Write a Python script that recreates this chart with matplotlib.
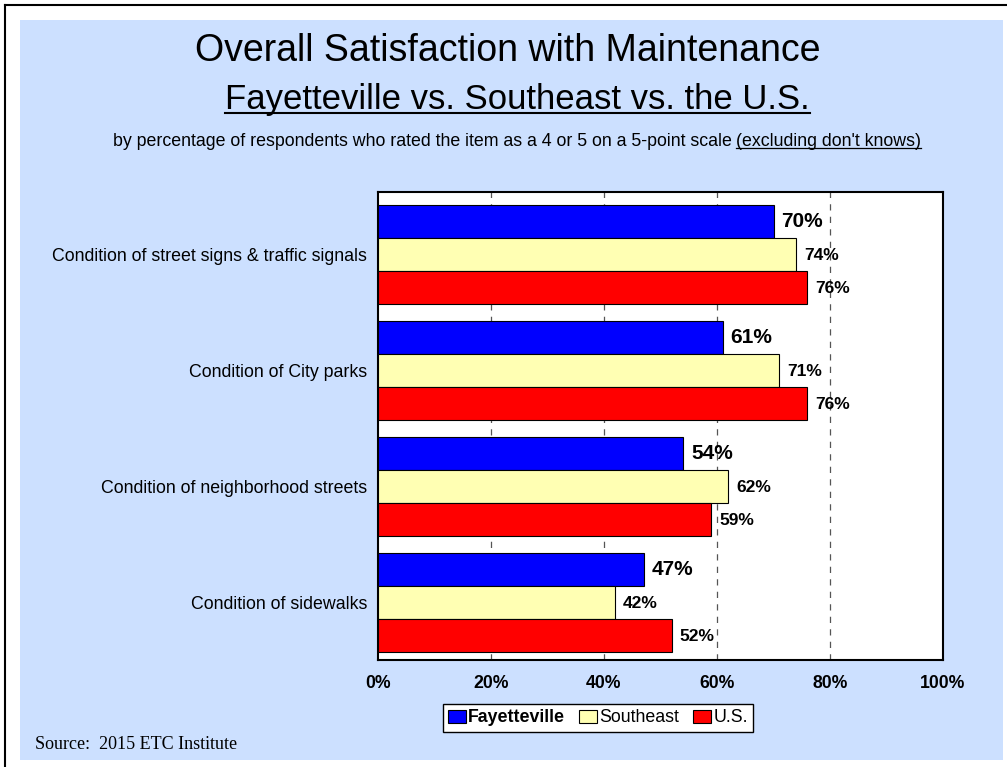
import numpy as np
import matplotlib.pyplot as plt
from matplotlib.patches import Rectangle
from matplotlib.lines import Line2D

plt.rcParams['font.family'] = ['Liberation Sans', 'DejaVu Sans']

categories = ["Condition of street signs & traffic signals",
              "Condition of City parks",
              "Condition of neighborhood streets",
              "Condition of sidewalks"]
fayetteville = [70, 61, 54, 47]
southeast = [74, 71, 62, 42]
us = [76, 76, 59, 52]
series_names = ["Fayetteville", "Southeast", "U.S."]
xticks = [0, 20, 40, 60, 80, 100]
xtick_labels = ["0%", "20%", "40%", "60%", "80%", "100%"]

W, H = 1007, 767
fig = plt.figure(figsize=(W / 100, H / 100), dpi=100)
fig.patch.set_facecolor('white')

# light blue panel and the black frame lines at top/left
fig.add_artist(Rectangle((20 / W, 1 - 760 / H), 983 / W, 740 / H,
                         transform=fig.transFigure, facecolor='#CCE0FF',
                         edgecolor='none', zorder=0))
fig.add_artist(Line2D([4.5 / W, 4.5 / W], [0, 1 - 5 / H], transform=fig.transFigure,
                      color='black', lw=1.5))
fig.add_artist(Line2D([4.5 / W, 1], [1 - 5 / H, 1 - 5 / H], transform=fig.transFigure,
                      color='black', lw=1.5))

ax = fig.add_axes([378 / W, 1 - 660 / H, 565 / W, 468 / H])
ax.set_facecolor('white')

y = np.arange(len(categories))
h = 0.284
colors = ['#0000FF', '#FFFFB3', '#FF0000']
data = [fayetteville, southeast, us]
for k, (vals, c, name) in enumerate(zip(data, colors, series_names)):
    ax.barh(y + (k - 1) * h, vals, height=h, color=c, edgecolor='black',
            linewidth=0.8, label=name, zorder=3)
    for yi, v in zip(y + (k - 1) * h, vals):
        if k == 0:
            ax.text(v + 1.4, yi, f"{v}%", va='center', ha='left', fontsize=15,
                    fontweight='bold', zorder=4)
        else:
            ax.text(v + 1.4, yi + 0.01, f"{v}%", va='center', ha='left', fontsize=12.5,
                    fontweight='bold', zorder=4)

ax.set_xlim(0, 100)
ax.set_ylim(3.496, -0.539)
ax.set_yticks(y)
ax.set_yticklabels(categories, fontsize=12.8)
ax.set_xticks(xticks)
ax.set_xticklabels(xtick_labels, fontsize=12.7, fontweight='bold')
ax.tick_params(axis='x', length=0, pad=11)
ax.tick_params(axis='y', length=0, pad=8)
for xv in xticks[1:-1]:
    ax.axvline(xv, color='#555555', lw=0.9, ls=(0, (5, 5)), zorder=1)
for s in ax.spines.values():
    s.set_linewidth(1.5)
    s.set_color('black')

leg = ax.legend(loc='center', bbox_to_anchor=(598 / W, 1 - 718 / H),
                bbox_transform=fig.transFigure, ncol=3, fontsize=12.8,
                frameon=True, fancybox=False, edgecolor='black', framealpha=1,
                handlelength=1.0, handleheight=0.8, handletextpad=0.12,
                columnspacing=0.8, borderpad=0.32, borderaxespad=0)
leg.get_frame().set_linewidth(1.0)
leg.get_texts()[0].set_fontweight('bold')

# titles
fig.text(0.504, 1 - 61 / H, "Overall Satisfaction with Maintenance", ha='center',
         va='baseline', fontsize=27)
t2 = fig.text(0.514, 1 - 109 / H, "Fayetteville vs. Southeast vs. the U.S.", ha='center',
              va='baseline', fontsize=25)

fig.canvas.draw()
r = fig.canvas.get_renderer()


def underline(txt, y_px, lw=1.0):
    bb = txt.get_window_extent(renderer=r)
    yy = 1 - y_px / H
    fig.add_artist(Line2D([bb.x0 / W, bb.x1 / W], [yy, yy], transform=fig.transFigure,
                          color='black', lw=lw))


underline(t2, 113, lw=1.5)

# subtitle: plain part + underlined part, centered together
part1 = "by percentage of respondents who rated the item as a 4 or 5 on a 5-point scale "
part2 = "(excluding don't knows)"
sy = 1 - 146 / H
p1 = fig.text(0, sy, part1, ha='left', va='baseline', fontsize=12.75)
p2 = fig.text(0, sy, part2, ha='left', va='baseline', fontsize=12.75)
fig.canvas.draw()
w1 = p1.get_window_extent(renderer=r).width
w2 = p2.get_window_extent(renderer=r).width
x0 = (517 - (w1 + w2) / 2) / W
p1.set_x(x0)
p2.set_x(x0 + w1 / W)
fig.canvas.draw()
underline(p2, 148, lw=0.9)

fig.text(35 / W, 1 - 749 / H, "Source:  2015 ETC Institute", ha='left', va='baseline',
         fontsize=13, family=['Liberation Serif', 'DejaVu Serif'])

fig.savefig('out.png', dpi=100, facecolor=fig.get_facecolor())
